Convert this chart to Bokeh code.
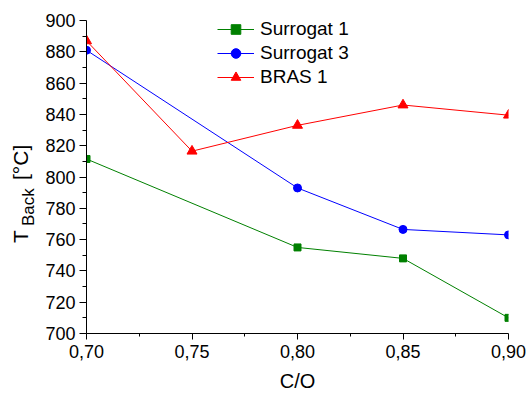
import numpy as np
from bokeh.plotting import figure
from bokeh.layouts import row
from bokeh.models import Range1d, FixedTicker, CustomJSTickFormatter, Div
from bokeh.embed import file_html
from bokeh.resources import INLINE

# C/O ratios and back-side temperatures (°C) for each fuel
co_surrogat1 = [0.70, 0.80, 0.85, 0.90]
t_surrogat1 = [811.5, 755.0, 748.0, 710.0]

co_surrogat3 = [0.70, 0.80, 0.85, 0.90]
t_surrogat3 = [881.0, 793.0, 766.5, 763.0]

co_bras1 = [0.70, 0.75, 0.80, 0.85, 0.90]
t_bras1 = [887.0, 816.5, 833.0, 846.0, 839.5]

x_ticks = [0.70, 0.75, 0.80, 0.85, 0.90]
x_tick_labels = ["0,70", "0,75", "0,80", "0,85", "0,90"]
y_ticks = [700, 720, 740, 760, 780, 800, 820, 840, 860, 880, 900]

FONT = "Liberation Sans"
TITLE_W = 40          # width of the strip holding the y-axis title
H = 396

p = figure(width=530 - TITLE_W, height=H,
           x_range=Range1d(0.70, 0.90), y_range=Range1d(700, 900),
           output_backend="svg", toolbar_location=None,
           min_border_left=86 - TITLE_W, min_border_right=22,
           min_border_top=20, min_border_bottom=63)
p.outline_line_color = None
p.xgrid.visible = False
p.ygrid.visible = False
p.background_fill_color = "white"
p.border_fill_color = "white"

# series: line + marker
p.line(co_surrogat1, t_surrogat1, color="#008000", line_width=1, legend_label="Surrogat 1")
p.scatter(co_surrogat1, t_surrogat1, marker="square", size=7, color="#008000", legend_label="Surrogat 1")

p.line(co_surrogat3, t_surrogat3, color="#0000FF", line_width=1, legend_label="Surrogat 3")
p.scatter(co_surrogat3, t_surrogat3, marker="circle", size=8, color="#0000FF", legend_label="Surrogat 3")

p.line(co_bras1, t_bras1, color="#FF0000", line_width=1, legend_label="BRAS 1")
p.scatter(co_bras1, t_bras1, marker="triangle", size=10, color="#FF0000", legend_label="BRAS 1")

# axes
xa = p.xaxis[0]
xa.ticker = FixedTicker(ticks=x_ticks,
                        minor_ticks=list(np.array(x_ticks[:-1]) + 0.025))
xa.formatter = CustomJSTickFormatter(args=dict(tick_vals=x_ticks, tick_texts=x_tick_labels), code="""
    const i = tick_vals.findIndex(t => Math.abs(t - tick) < 1e-9);
    return i >= 0 ? tick_texts[i] : "";
""")
xa.axis_label = "C/O"

ya = p.yaxis[0]
ya.ticker = FixedTicker(ticks=y_ticks,
                        minor_ticks=list(np.array(y_ticks[:-1]) + 10))

for ax in (xa, ya):
    ax.axis_line_color = "black"
    ax.axis_line_width = 1
    ax.major_tick_line_color = "black"
    ax.minor_tick_line_color = "black"
    ax.major_tick_in = 0
    ax.minor_tick_in = 0
    ax.major_label_text_font = FONT
    ax.major_label_text_font_size = "18px"
    ax.major_label_text_color = "black"
    ax.axis_label_text_font = FONT
    ax.axis_label_text_font_size = "20px"
    ax.axis_label_text_font_style = "normal"
    ax.axis_label_text_color = "black"

xa.major_tick_out = 6
xa.minor_tick_out = 3
xa.major_label_standoff = 5
xa.axis_label_standoff = 9
ya.major_tick_out = 7
ya.minor_tick_out = 4
ya.major_label_standoff = 4

# legend
lg = p.legend[0]
lg.location = (131, 244)
lg.border_line_color = None
lg.background_fill_alpha = 0
lg.padding = 0
lg.margin = 0
lg.spacing = 0
lg.glyph_width = 37
lg.glyph_height = 24
lg.label_height = 24
lg.label_standoff = 6
lg.label_text_font = FONT
lg.label_text_font_size = "19px"
lg.label_text_color = "black"

# y-axis title "T_Back [°C]" (subscript), written bottom-to-top
ytitle_svg = f"""
<svg xmlns="http://www.w3.org/2000/svg" width="{TITLE_W}" height="{H}" style="display:block">
  <g transform="translate(28,243) rotate(-90)" font-family="{FONT}" fill="black">
    <text x="0" y="0" font-size="21">T</text>
    <text x="17" y="6" font-size="17">Back</text>
    <text x="63" y="0" font-size="21">[°C]</text>
  </g>
</svg>
"""
ytitle = Div(text=ytitle_svg, width=TITLE_W, height=H, margin=0)

layout = row(ytitle, p, spacing=0)
open("out.html", "w").write(file_html(layout, INLINE))
